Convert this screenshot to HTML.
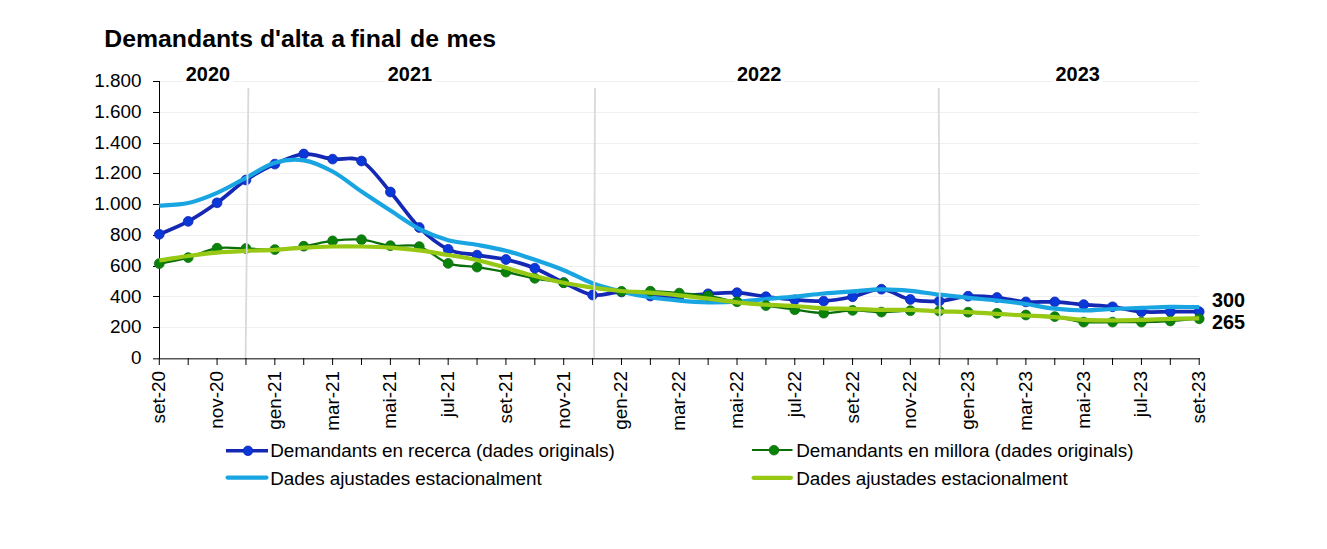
<!DOCTYPE html><html><head><meta charset="utf-8"><style>html,body{margin:0;padding:0;background:#fff;}svg{display:block;}text{font-family:"Liberation Sans",sans-serif;}</style></head><body>
<svg width="1327" height="549" viewBox="0 0 1327 549">
<rect width="1327" height="549" fill="#fff"/>
<text x="104.3" y="47" font-size="24.8" font-weight="bold" fill="#000">Demandants</text>
<text x="259.9" y="47" font-size="24.8" font-weight="bold" fill="#000">d'alta</text>
<text x="331.2" y="47" font-size="24.8" font-weight="bold" fill="#000">a</text>
<text x="350.6" y="47" font-size="24.8" font-weight="bold" fill="#000">final</text>
<text x="410" y="47" font-size="24.8" font-weight="bold" fill="#000">de</text>
<text x="446.5" y="47" font-size="24.8" font-weight="bold" fill="#000">mes</text>
<line x1="160" y1="81.5" x2="1199" y2="81.5" stroke="#efefef" stroke-width="1"/>
<line x1="160" y1="112.5" x2="1199" y2="112.5" stroke="#efefef" stroke-width="1"/>
<line x1="160" y1="143.5" x2="1199" y2="143.5" stroke="#efefef" stroke-width="1"/>
<line x1="160" y1="173.5" x2="1199" y2="173.5" stroke="#efefef" stroke-width="1"/>
<line x1="160" y1="204.5" x2="1199" y2="204.5" stroke="#efefef" stroke-width="1"/>
<line x1="160" y1="235.5" x2="1199" y2="235.5" stroke="#efefef" stroke-width="1"/>
<line x1="160" y1="266.5" x2="1199" y2="266.5" stroke="#efefef" stroke-width="1"/>
<line x1="160" y1="296.5" x2="1199" y2="296.5" stroke="#efefef" stroke-width="1"/>
<line x1="160" y1="327.5" x2="1199" y2="327.5" stroke="#efefef" stroke-width="1"/>
<rect x="182.95" y="64" width="50" height="19" fill="#fff"/>
<text x="207.95" y="81.4" font-size="19.9" font-weight="bold" text-anchor="middle" fill="#000">2020</text>
<rect x="384.95" y="64" width="50" height="19" fill="#fff"/>
<text x="409.95" y="81.4" font-size="19.9" font-weight="bold" text-anchor="middle" fill="#000">2021</text>
<rect x="734.15" y="64" width="50" height="19" fill="#fff"/>
<text x="759.15" y="81.4" font-size="19.9" font-weight="bold" text-anchor="middle" fill="#000">2022</text>
<rect x="1052.65" y="64" width="50" height="19" fill="#fff"/>
<text x="1077.65" y="81.4" font-size="19.9" font-weight="bold" text-anchor="middle" fill="#000">2023</text>
<line x1="153" y1="81.5" x2="159.5" y2="81.5" stroke="#000" stroke-width="1"/>
<line x1="153" y1="112.5" x2="159.5" y2="112.5" stroke="#000" stroke-width="1"/>
<line x1="153" y1="143.5" x2="159.5" y2="143.5" stroke="#000" stroke-width="1"/>
<line x1="153" y1="173.5" x2="159.5" y2="173.5" stroke="#000" stroke-width="1"/>
<line x1="153" y1="204.5" x2="159.5" y2="204.5" stroke="#000" stroke-width="1"/>
<line x1="153" y1="235.5" x2="159.5" y2="235.5" stroke="#000" stroke-width="1"/>
<line x1="153" y1="266.5" x2="159.5" y2="266.5" stroke="#000" stroke-width="1"/>
<line x1="153" y1="296.5" x2="159.5" y2="296.5" stroke="#000" stroke-width="1"/>
<line x1="153" y1="327.5" x2="159.5" y2="327.5" stroke="#000" stroke-width="1"/>
<line x1="153" y1="358.8" x2="1199.5" y2="358.8" stroke="#555" stroke-width="1.6"/>
<line x1="159.5" y1="81" x2="159.5" y2="359" stroke="#000" stroke-width="1"/>
<line x1="159.3" y1="358" x2="159.3" y2="365" stroke="#000" stroke-width="1"/>
<line x1="188.19" y1="358" x2="188.19" y2="365" stroke="#000" stroke-width="1"/>
<line x1="217.07" y1="358" x2="217.07" y2="365" stroke="#000" stroke-width="1"/>
<line x1="245.96" y1="358" x2="245.96" y2="365" stroke="#000" stroke-width="1"/>
<line x1="274.84" y1="358" x2="274.84" y2="365" stroke="#000" stroke-width="1"/>
<line x1="303.73" y1="358" x2="303.73" y2="365" stroke="#000" stroke-width="1"/>
<line x1="332.62" y1="358" x2="332.62" y2="365" stroke="#000" stroke-width="1"/>
<line x1="361.5" y1="358" x2="361.5" y2="365" stroke="#000" stroke-width="1"/>
<line x1="390.39" y1="358" x2="390.39" y2="365" stroke="#000" stroke-width="1"/>
<line x1="419.28" y1="358" x2="419.28" y2="365" stroke="#000" stroke-width="1"/>
<line x1="448.16" y1="358" x2="448.16" y2="365" stroke="#000" stroke-width="1"/>
<line x1="477.05" y1="358" x2="477.05" y2="365" stroke="#000" stroke-width="1"/>
<line x1="505.93" y1="358" x2="505.93" y2="365" stroke="#000" stroke-width="1"/>
<line x1="534.82" y1="358" x2="534.82" y2="365" stroke="#000" stroke-width="1"/>
<line x1="563.71" y1="358" x2="563.71" y2="365" stroke="#000" stroke-width="1"/>
<line x1="592.59" y1="358" x2="592.59" y2="365" stroke="#000" stroke-width="1"/>
<line x1="621.48" y1="358" x2="621.48" y2="365" stroke="#000" stroke-width="1"/>
<line x1="650.36" y1="358" x2="650.36" y2="365" stroke="#000" stroke-width="1"/>
<line x1="679.25" y1="358" x2="679.25" y2="365" stroke="#000" stroke-width="1"/>
<line x1="708.14" y1="358" x2="708.14" y2="365" stroke="#000" stroke-width="1"/>
<line x1="737.02" y1="358" x2="737.02" y2="365" stroke="#000" stroke-width="1"/>
<line x1="765.91" y1="358" x2="765.91" y2="365" stroke="#000" stroke-width="1"/>
<line x1="794.79" y1="358" x2="794.79" y2="365" stroke="#000" stroke-width="1"/>
<line x1="823.68" y1="358" x2="823.68" y2="365" stroke="#000" stroke-width="1"/>
<line x1="852.57" y1="358" x2="852.57" y2="365" stroke="#000" stroke-width="1"/>
<line x1="881.45" y1="358" x2="881.45" y2="365" stroke="#000" stroke-width="1"/>
<line x1="910.34" y1="358" x2="910.34" y2="365" stroke="#000" stroke-width="1"/>
<line x1="939.23" y1="358" x2="939.23" y2="365" stroke="#000" stroke-width="1"/>
<line x1="968.11" y1="358" x2="968.11" y2="365" stroke="#000" stroke-width="1"/>
<line x1="997" y1="358" x2="997" y2="365" stroke="#000" stroke-width="1"/>
<line x1="1025.88" y1="358" x2="1025.88" y2="365" stroke="#000" stroke-width="1"/>
<line x1="1054.77" y1="358" x2="1054.77" y2="365" stroke="#000" stroke-width="1"/>
<line x1="1083.66" y1="358" x2="1083.66" y2="365" stroke="#000" stroke-width="1"/>
<line x1="1112.54" y1="358" x2="1112.54" y2="365" stroke="#000" stroke-width="1"/>
<line x1="1141.43" y1="358" x2="1141.43" y2="365" stroke="#000" stroke-width="1"/>
<line x1="1170.31" y1="358" x2="1170.31" y2="365" stroke="#000" stroke-width="1"/>
<line x1="1199.2" y1="358" x2="1199.2" y2="365" stroke="#000" stroke-width="1"/>
<text x="141.5" y="87" font-size="18.9" text-anchor="end" fill="#000">1.800</text>
<text x="141.5" y="117.8" font-size="18.9" text-anchor="end" fill="#000">1.600</text>
<text x="141.5" y="148.6" font-size="18.9" text-anchor="end" fill="#000">1.400</text>
<text x="141.5" y="179.4" font-size="18.9" text-anchor="end" fill="#000">1.200</text>
<text x="141.5" y="210.2" font-size="18.9" text-anchor="end" fill="#000">1.000</text>
<text x="141.5" y="241" font-size="18.9" text-anchor="end" fill="#000">800</text>
<text x="141.5" y="271.8" font-size="18.9" text-anchor="end" fill="#000">600</text>
<text x="141.5" y="302.6" font-size="18.9" text-anchor="end" fill="#000">400</text>
<text x="141.5" y="333.4" font-size="18.9" text-anchor="end" fill="#000">200</text>
<text x="141.5" y="364.2" font-size="18.9" text-anchor="end" fill="#000">0</text>
<text transform="translate(165.3 371) rotate(-90)" font-size="18.9" text-anchor="end" fill="#000">set-20</text>
<text transform="translate(223.07 371) rotate(-90)" font-size="18.9" text-anchor="end" fill="#000">nov-20</text>
<text transform="translate(280.84 371) rotate(-90)" font-size="18.9" text-anchor="end" fill="#000">gen-21</text>
<text transform="translate(338.62 371) rotate(-90)" font-size="18.9" text-anchor="end" fill="#000">mar-21</text>
<text transform="translate(396.39 371) rotate(-90)" font-size="18.9" text-anchor="end" fill="#000">mai-21</text>
<text transform="translate(454.16 371) rotate(-90)" font-size="18.9" text-anchor="end" fill="#000">jul-21</text>
<text transform="translate(511.93 371) rotate(-90)" font-size="18.9" text-anchor="end" fill="#000">set-21</text>
<text transform="translate(569.71 371) rotate(-90)" font-size="18.9" text-anchor="end" fill="#000">nov-21</text>
<text transform="translate(627.48 371) rotate(-90)" font-size="18.9" text-anchor="end" fill="#000">gen-22</text>
<text transform="translate(685.25 371) rotate(-90)" font-size="18.9" text-anchor="end" fill="#000">mar-22</text>
<text transform="translate(743.02 371) rotate(-90)" font-size="18.9" text-anchor="end" fill="#000">mai-22</text>
<text transform="translate(800.79 371) rotate(-90)" font-size="18.9" text-anchor="end" fill="#000">jul-22</text>
<text transform="translate(858.57 371) rotate(-90)" font-size="18.9" text-anchor="end" fill="#000">set-22</text>
<text transform="translate(916.34 371) rotate(-90)" font-size="18.9" text-anchor="end" fill="#000">nov-22</text>
<text transform="translate(974.11 371) rotate(-90)" font-size="18.9" text-anchor="end" fill="#000">gen-23</text>
<text transform="translate(1031.88 371) rotate(-90)" font-size="18.9" text-anchor="end" fill="#000">mar-23</text>
<text transform="translate(1089.66 371) rotate(-90)" font-size="18.9" text-anchor="end" fill="#000">mai-23</text>
<text transform="translate(1147.43 371) rotate(-90)" font-size="18.9" text-anchor="end" fill="#000">jul-23</text>
<text transform="translate(1205.2 371) rotate(-90)" font-size="18.9" text-anchor="end" fill="#000">set-23</text>
<path d="M159.3 234.3 C164.11 232.15 178.56 226.65 188.19 221.4 C197.81 216.15 207.44 209.7 217.07 202.8 C226.7 195.9 236.33 186.45 245.96 180 C255.59 173.55 265.22 168.43 274.84 164.1 C284.47 159.77 294.1 154.83 303.73 154 C313.36 153.17 322.99 157.93 332.62 159.1 C342.25 160.27 351.87 155.52 361.5 161 C371.13 166.48 380.76 180.92 390.39 192 C400.02 203.08 409.65 217.95 419.28 227.5 C428.9 237.05 438.53 244.7 448.16 249.3 C457.79 253.9 467.42 253.4 477.05 255.1 C486.68 256.8 496.3 257.32 505.93 259.5 C515.56 261.68 525.19 264.35 534.82 268.2 C544.45 272.05 554.08 278.13 563.71 282.6 C573.33 287.07 582.96 293.43 592.59 295 C602.22 296.57 611.85 291.83 621.48 292 C631.11 292.17 640.74 295.3 650.36 296 C659.99 296.7 669.62 296.57 679.25 296.2 C688.88 295.83 698.51 294.38 708.14 293.8 C717.76 293.22 727.39 292.22 737.02 292.7 C746.65 293.18 756.28 295.52 765.91 296.7 C775.54 297.88 785.17 299.07 794.79 299.8 C804.42 300.53 814.05 301.6 823.68 301.1 C833.31 300.6 842.94 298.78 852.57 296.8 C862.2 294.82 871.82 288.75 881.45 289.2 C891.08 289.65 900.71 297.52 910.34 299.5 C919.97 301.48 929.6 301.65 939.23 301.1 C948.85 300.55 958.48 296.8 968.11 296.2 C977.74 295.6 987.37 296.55 997 297.5 C1006.63 298.45 1016.25 301.17 1025.88 301.9 C1035.51 302.63 1045.14 301.45 1054.77 301.9 C1064.4 302.35 1074.03 303.78 1083.66 304.6 C1093.28 305.42 1102.91 305.62 1112.54 306.8 C1122.17 307.98 1131.8 310.88 1141.43 311.7 C1151.06 312.52 1160.69 311.7 1170.31 311.7 C1179.94 311.7 1194.39 311.7 1199.2 311.7" fill="none" stroke="#1428b4" stroke-width="3.7" stroke-linejoin="round"/>
<circle cx="159.3" cy="234.3" r="4.9" fill="#0a37d8" stroke="#1428b4" stroke-width="0.8"/>
<circle cx="188.19" cy="221.4" r="4.9" fill="#0a37d8" stroke="#1428b4" stroke-width="0.8"/>
<circle cx="217.07" cy="202.8" r="4.9" fill="#0a37d8" stroke="#1428b4" stroke-width="0.8"/>
<circle cx="245.96" cy="180" r="4.9" fill="#0a37d8" stroke="#1428b4" stroke-width="0.8"/>
<circle cx="274.84" cy="164.1" r="4.9" fill="#0a37d8" stroke="#1428b4" stroke-width="0.8"/>
<circle cx="303.73" cy="154" r="4.9" fill="#0a37d8" stroke="#1428b4" stroke-width="0.8"/>
<circle cx="332.62" cy="159.1" r="4.9" fill="#0a37d8" stroke="#1428b4" stroke-width="0.8"/>
<circle cx="361.5" cy="161" r="4.9" fill="#0a37d8" stroke="#1428b4" stroke-width="0.8"/>
<circle cx="390.39" cy="192" r="4.9" fill="#0a37d8" stroke="#1428b4" stroke-width="0.8"/>
<circle cx="419.28" cy="227.5" r="4.9" fill="#0a37d8" stroke="#1428b4" stroke-width="0.8"/>
<circle cx="448.16" cy="249.3" r="4.9" fill="#0a37d8" stroke="#1428b4" stroke-width="0.8"/>
<circle cx="477.05" cy="255.1" r="4.9" fill="#0a37d8" stroke="#1428b4" stroke-width="0.8"/>
<circle cx="505.93" cy="259.5" r="4.9" fill="#0a37d8" stroke="#1428b4" stroke-width="0.8"/>
<circle cx="534.82" cy="268.2" r="4.9" fill="#0a37d8" stroke="#1428b4" stroke-width="0.8"/>
<circle cx="563.71" cy="282.6" r="4.9" fill="#0a37d8" stroke="#1428b4" stroke-width="0.8"/>
<circle cx="592.59" cy="295" r="4.9" fill="#0a37d8" stroke="#1428b4" stroke-width="0.8"/>
<circle cx="621.48" cy="292" r="4.9" fill="#0a37d8" stroke="#1428b4" stroke-width="0.8"/>
<circle cx="650.36" cy="296" r="4.9" fill="#0a37d8" stroke="#1428b4" stroke-width="0.8"/>
<circle cx="679.25" cy="296.2" r="4.9" fill="#0a37d8" stroke="#1428b4" stroke-width="0.8"/>
<circle cx="708.14" cy="293.8" r="4.9" fill="#0a37d8" stroke="#1428b4" stroke-width="0.8"/>
<circle cx="737.02" cy="292.7" r="4.9" fill="#0a37d8" stroke="#1428b4" stroke-width="0.8"/>
<circle cx="765.91" cy="296.7" r="4.9" fill="#0a37d8" stroke="#1428b4" stroke-width="0.8"/>
<circle cx="794.79" cy="299.8" r="4.9" fill="#0a37d8" stroke="#1428b4" stroke-width="0.8"/>
<circle cx="823.68" cy="301.1" r="4.9" fill="#0a37d8" stroke="#1428b4" stroke-width="0.8"/>
<circle cx="852.57" cy="296.8" r="4.9" fill="#0a37d8" stroke="#1428b4" stroke-width="0.8"/>
<circle cx="881.45" cy="289.2" r="4.9" fill="#0a37d8" stroke="#1428b4" stroke-width="0.8"/>
<circle cx="910.34" cy="299.5" r="4.9" fill="#0a37d8" stroke="#1428b4" stroke-width="0.8"/>
<circle cx="939.23" cy="301.1" r="4.9" fill="#0a37d8" stroke="#1428b4" stroke-width="0.8"/>
<circle cx="968.11" cy="296.2" r="4.9" fill="#0a37d8" stroke="#1428b4" stroke-width="0.8"/>
<circle cx="997" cy="297.5" r="4.9" fill="#0a37d8" stroke="#1428b4" stroke-width="0.8"/>
<circle cx="1025.88" cy="301.9" r="4.9" fill="#0a37d8" stroke="#1428b4" stroke-width="0.8"/>
<circle cx="1054.77" cy="301.9" r="4.9" fill="#0a37d8" stroke="#1428b4" stroke-width="0.8"/>
<circle cx="1083.66" cy="304.6" r="4.9" fill="#0a37d8" stroke="#1428b4" stroke-width="0.8"/>
<circle cx="1112.54" cy="306.8" r="4.9" fill="#0a37d8" stroke="#1428b4" stroke-width="0.8"/>
<circle cx="1141.43" cy="311.7" r="4.9" fill="#0a37d8" stroke="#1428b4" stroke-width="0.8"/>
<circle cx="1170.31" cy="311.7" r="4.9" fill="#0a37d8" stroke="#1428b4" stroke-width="0.8"/>
<circle cx="1199.2" cy="311.7" r="4.9" fill="#0a37d8" stroke="#1428b4" stroke-width="0.8"/>
<path d="M159.3 205.6 C164.11 205.17 178.56 205.13 188.19 203 C197.81 200.87 207.44 197 217.07 192.8 C226.7 188.6 236.33 182.8 245.96 177.8 C255.59 172.8 265.22 165.72 274.84 162.8 C284.47 159.88 294.1 158.85 303.73 160.3 C313.36 161.75 322.99 166.3 332.62 171.5 C342.25 176.7 351.87 185 361.5 191.5 C371.13 198 380.76 204.28 390.39 210.5 C400.02 216.72 409.65 223.85 419.28 228.8 C428.9 233.75 438.53 237.53 448.16 240.2 C457.79 242.87 467.42 243.05 477.05 244.8 C486.68 246.55 496.3 248.2 505.93 250.7 C515.56 253.2 525.19 256.55 534.82 259.8 C544.45 263.05 554.08 266.28 563.71 270.2 C573.33 274.12 582.96 279.73 592.59 283.3 C602.22 286.87 611.85 289.27 621.48 291.6 C631.11 293.93 640.74 295.8 650.36 297.3 C659.99 298.8 669.62 299.77 679.25 300.6 C688.88 301.43 698.51 302.12 708.14 302.3 C717.76 302.48 727.39 302.23 737.02 301.7 C746.65 301.17 756.28 299.95 765.91 299.1 C775.54 298.25 785.17 297.53 794.79 296.6 C804.42 295.67 814.05 294.38 823.68 293.5 C833.31 292.62 842.94 292 852.57 291.3 C862.2 290.6 871.82 289.38 881.45 289.3 C891.08 289.22 900.71 289.9 910.34 290.8 C919.97 291.7 929.6 293.53 939.23 294.7 C948.85 295.87 958.48 296.83 968.11 297.8 C977.74 298.77 987.37 299.47 997 300.5 C1006.63 301.53 1016.25 302.63 1025.88 304 C1035.51 305.37 1045.14 307.62 1054.77 308.7 C1064.4 309.78 1074.03 310.45 1083.66 310.5 C1093.28 310.55 1102.91 309.43 1112.54 309 C1122.17 308.57 1131.8 308.27 1141.43 307.9 C1151.06 307.53 1160.69 306.93 1170.31 306.8 C1179.94 306.67 1194.39 307.05 1199.2 307.1" fill="none" stroke="#19a5e1" stroke-width="4.2" stroke-linecap="butt"/>
<path d="M159.3 263.6 C164.11 262.6 178.56 260.17 188.19 257.6 C197.81 255.03 207.44 249.72 217.07 248.2 C226.7 246.68 236.33 248.27 245.96 248.5 C255.59 248.73 265.22 249.98 274.84 249.6 C284.47 249.22 294.1 247.65 303.73 246.2 C313.36 244.75 322.99 241.98 332.62 240.9 C342.25 239.82 351.87 238.9 361.5 239.7 C371.13 240.5 380.76 244.55 390.39 245.7 C400.02 246.85 409.65 243.65 419.28 246.6 C428.9 249.55 438.53 259.98 448.16 263.4 C457.79 266.82 467.42 265.65 477.05 267.1 C486.68 268.55 496.3 270.23 505.93 272.1 C515.56 273.97 525.19 276.52 534.82 278.3 C544.45 280.08 554.08 281.18 563.71 282.8 C573.33 284.42 582.96 286.57 592.59 288 C602.22 289.43 611.85 290.87 621.48 291.4 C631.11 291.93 640.74 290.92 650.36 291.2 C659.99 291.48 669.62 292.32 679.25 293.1 C688.88 293.88 698.51 294.45 708.14 295.9 C717.76 297.35 727.39 300.18 737.02 301.8 C746.65 303.42 756.28 304.28 765.91 305.6 C775.54 306.92 785.17 308.43 794.79 309.7 C804.42 310.97 814.05 313.08 823.68 313.2 C833.31 313.32 842.94 310.58 852.57 310.4 C862.2 310.22 871.82 312.05 881.45 312.1 C891.08 312.15 900.71 310.88 910.34 310.7 C919.97 310.52 929.6 310.75 939.23 311 C948.85 311.25 958.48 311.82 968.11 312.2 C977.74 312.58 987.37 312.83 997 313.3 C1006.63 313.77 1016.25 314.45 1025.88 315 C1035.51 315.55 1045.14 315.42 1054.77 316.6 C1064.4 317.78 1074.03 321.18 1083.66 322.1 C1093.28 323.02 1102.91 322.1 1112.54 322.1 C1122.17 322.1 1131.8 322.28 1141.43 322.1 C1151.06 321.92 1160.69 321.55 1170.31 321 C1179.94 320.45 1194.39 319.17 1199.2 318.8" fill="none" stroke="#0a6e0a" stroke-width="2.3" stroke-linejoin="round"/>
<circle cx="159.3" cy="263.6" r="4.9" fill="#0a820a" stroke="#0a6e0a" stroke-width="0.8"/>
<circle cx="188.19" cy="257.6" r="4.9" fill="#0a820a" stroke="#0a6e0a" stroke-width="0.8"/>
<circle cx="217.07" cy="248.2" r="4.9" fill="#0a820a" stroke="#0a6e0a" stroke-width="0.8"/>
<circle cx="245.96" cy="248.5" r="4.9" fill="#0a820a" stroke="#0a6e0a" stroke-width="0.8"/>
<circle cx="274.84" cy="249.6" r="4.9" fill="#0a820a" stroke="#0a6e0a" stroke-width="0.8"/>
<circle cx="303.73" cy="246.2" r="4.9" fill="#0a820a" stroke="#0a6e0a" stroke-width="0.8"/>
<circle cx="332.62" cy="240.9" r="4.9" fill="#0a820a" stroke="#0a6e0a" stroke-width="0.8"/>
<circle cx="361.5" cy="239.7" r="4.9" fill="#0a820a" stroke="#0a6e0a" stroke-width="0.8"/>
<circle cx="390.39" cy="245.7" r="4.9" fill="#0a820a" stroke="#0a6e0a" stroke-width="0.8"/>
<circle cx="419.28" cy="246.6" r="4.9" fill="#0a820a" stroke="#0a6e0a" stroke-width="0.8"/>
<circle cx="448.16" cy="263.4" r="4.9" fill="#0a820a" stroke="#0a6e0a" stroke-width="0.8"/>
<circle cx="477.05" cy="267.1" r="4.9" fill="#0a820a" stroke="#0a6e0a" stroke-width="0.8"/>
<circle cx="505.93" cy="272.1" r="4.9" fill="#0a820a" stroke="#0a6e0a" stroke-width="0.8"/>
<circle cx="534.82" cy="278.3" r="4.9" fill="#0a820a" stroke="#0a6e0a" stroke-width="0.8"/>
<circle cx="563.71" cy="282.8" r="4.9" fill="#0a820a" stroke="#0a6e0a" stroke-width="0.8"/>
<circle cx="621.48" cy="291.4" r="4.9" fill="#0a820a" stroke="#0a6e0a" stroke-width="0.8"/>
<circle cx="650.36" cy="291.2" r="4.9" fill="#0a820a" stroke="#0a6e0a" stroke-width="0.8"/>
<circle cx="679.25" cy="293.1" r="4.9" fill="#0a820a" stroke="#0a6e0a" stroke-width="0.8"/>
<circle cx="708.14" cy="295.9" r="4.9" fill="#0a820a" stroke="#0a6e0a" stroke-width="0.8"/>
<circle cx="737.02" cy="301.8" r="4.9" fill="#0a820a" stroke="#0a6e0a" stroke-width="0.8"/>
<circle cx="765.91" cy="305.6" r="4.9" fill="#0a820a" stroke="#0a6e0a" stroke-width="0.8"/>
<circle cx="794.79" cy="309.7" r="4.9" fill="#0a820a" stroke="#0a6e0a" stroke-width="0.8"/>
<circle cx="823.68" cy="313.2" r="4.9" fill="#0a820a" stroke="#0a6e0a" stroke-width="0.8"/>
<circle cx="852.57" cy="310.4" r="4.9" fill="#0a820a" stroke="#0a6e0a" stroke-width="0.8"/>
<circle cx="881.45" cy="312.1" r="4.9" fill="#0a820a" stroke="#0a6e0a" stroke-width="0.8"/>
<circle cx="910.34" cy="310.7" r="4.9" fill="#0a820a" stroke="#0a6e0a" stroke-width="0.8"/>
<circle cx="939.23" cy="311" r="4.9" fill="#0a820a" stroke="#0a6e0a" stroke-width="0.8"/>
<circle cx="968.11" cy="312.2" r="4.9" fill="#0a820a" stroke="#0a6e0a" stroke-width="0.8"/>
<circle cx="997" cy="313.3" r="4.9" fill="#0a820a" stroke="#0a6e0a" stroke-width="0.8"/>
<circle cx="1025.88" cy="315" r="4.9" fill="#0a820a" stroke="#0a6e0a" stroke-width="0.8"/>
<circle cx="1054.77" cy="316.6" r="4.9" fill="#0a820a" stroke="#0a6e0a" stroke-width="0.8"/>
<circle cx="1083.66" cy="322.1" r="4.9" fill="#0a820a" stroke="#0a6e0a" stroke-width="0.8"/>
<circle cx="1112.54" cy="322.1" r="4.9" fill="#0a820a" stroke="#0a6e0a" stroke-width="0.8"/>
<circle cx="1141.43" cy="322.1" r="4.9" fill="#0a820a" stroke="#0a6e0a" stroke-width="0.8"/>
<circle cx="1170.31" cy="321" r="4.9" fill="#0a820a" stroke="#0a6e0a" stroke-width="0.8"/>
<circle cx="1199.2" cy="318.8" r="4.9" fill="#0a820a" stroke="#0a6e0a" stroke-width="0.8"/>
<path d="M159.3 260.5 C164.11 259.75 178.56 257.32 188.19 256 C197.81 254.68 207.44 253.45 217.07 252.6 C226.7 251.75 236.33 251.37 245.96 250.9 C255.59 250.43 265.22 250.35 274.84 249.8 C284.47 249.25 294.1 248.15 303.73 247.6 C313.36 247.05 322.99 246.68 332.62 246.5 C342.25 246.32 351.87 246.32 361.5 246.5 C371.13 246.68 380.76 246.95 390.39 247.6 C400.02 248.25 409.65 249.17 419.28 250.4 C428.9 251.63 438.53 253.4 448.16 255 C457.79 256.6 467.42 257.87 477.05 260 C486.68 262.13 496.3 265.13 505.93 267.8 C515.56 270.47 525.19 273.5 534.82 276 C544.45 278.5 554.08 280.85 563.71 282.8 C573.33 284.75 582.96 286.33 592.59 287.7 C602.22 289.07 611.85 290.17 621.48 291 C631.11 291.83 640.74 291.97 650.36 292.7 C659.99 293.43 669.62 294.4 679.25 295.4 C688.88 296.4 698.51 297.55 708.14 298.7 C717.76 299.85 727.39 301.3 737.02 302.3 C746.65 303.3 756.28 304.08 765.91 304.7 C775.54 305.32 785.17 305.4 794.79 306 C804.42 306.6 814.05 307.83 823.68 308.3 C833.31 308.77 842.94 308.53 852.57 308.8 C862.2 309.07 871.82 309.72 881.45 309.9 C891.08 310.08 900.71 309.67 910.34 309.9 C919.97 310.13 929.6 310.93 939.23 311.3 C948.85 311.67 958.48 311.67 968.11 312.1 C977.74 312.53 987.37 313.33 997 313.9 C1006.63 314.47 1016.25 314.95 1025.88 315.5 C1035.51 316.05 1045.14 316.47 1054.77 317.2 C1064.4 317.93 1074.03 319.37 1083.66 319.9 C1093.28 320.43 1102.91 320.4 1112.54 320.4 C1122.17 320.4 1131.8 320.17 1141.43 319.9 C1151.06 319.63 1160.69 319.07 1170.31 318.8 C1179.94 318.53 1194.39 318.38 1199.2 318.3" fill="none" stroke="#96c814" stroke-width="4.2" stroke-linecap="butt"/>
<line x1="248.4" y1="88" x2="245.6" y2="358" stroke="#d9d9d9" stroke-width="1.8"/>
<line x1="595" y1="88" x2="594" y2="358" stroke="#d9d9d9" stroke-width="1.8"/>
<line x1="938.7" y1="88" x2="940" y2="358" stroke="#d9d9d9" stroke-width="1.8"/>
<text x="1212" y="306.5" font-size="19.8" font-weight="bold" fill="#000">300</text>
<text x="1212" y="328.5" font-size="19.8" font-weight="bold" fill="#000">265</text>
<line x1="226" y1="450.8" x2="268" y2="450.8" stroke="#1428b4" stroke-width="3.4"/>
<circle cx="248" cy="450.8" r="4.8" fill="#0a37d8" stroke="#1428b4" stroke-width="0.8"/>
<text x="270.2" y="457" font-size="18.9" letter-spacing="-0.05" fill="#000">Demandants en recerca (dades originals)</text>
<line x1="227.6" y1="477.6" x2="266.4" y2="477.6" stroke="#19a5e1" stroke-width="4.2" stroke-linecap="round"/>
<text x="270.2" y="484.7" font-size="18.9" letter-spacing="-0.05" fill="#000">Dades ajustades estacionalment</text>
<line x1="752" y1="450" x2="792.5" y2="450" stroke="#0a6e0a" stroke-width="2.2"/>
<circle cx="774" cy="450.2" r="4.8" fill="#0a820a" stroke="#0a6e0a" stroke-width="0.8"/>
<text x="796.2" y="457" font-size="18.9" letter-spacing="-0.05" fill="#000">Demandants en millora (dades originals)</text>
<line x1="753.6" y1="477.8" x2="790.9" y2="477.8" stroke="#96c814" stroke-width="4.2" stroke-linecap="round"/>
<text x="796.2" y="484.7" font-size="18.9" letter-spacing="-0.05" fill="#000">Dades ajustades estacionalment</text>
</svg></body></html>
